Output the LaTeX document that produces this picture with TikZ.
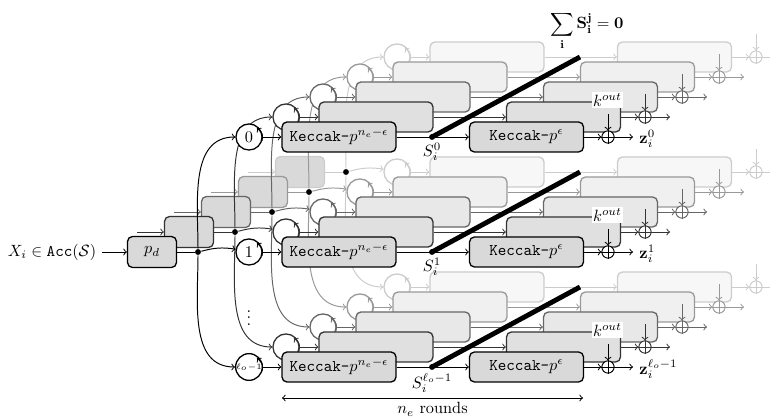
\documentclass[tikz,border=0pt]{standalone}
\usepackage{amsmath}
\usetikzlibrary{calc}
\begin{document}
\begin{tikzpicture}[x=0.6135pt,y=-0.6135pt,
  line width=0.6pt, >=to,
  kbox/.style={rounded corners=3pt, minimum width=69.9pt, minimum height=18.4pt, inner sep=0pt, line width=0.8pt},
  pbox/.style={rounded corners=3pt, minimum width=30pt, minimum height=19pt, inner sep=0pt, line width=0.8pt},
  ctr/.style={circle, minimum size=16pt, inner sep=0pt, fill=white, line width=0.8pt},
  xorn/.style={circle, minimum size=7.5pt, inner sep=0pt, fill=white, line width=0.6pt},
  dotn/.style={circle, fill=black, inner sep=0pt, minimum size=3.6pt},
]
\useasboundingbox (0,0) rectangle (770,419);

\foreach \k/\lc/\fc in {4/20/3,3/40/6,2/60/9,1/80/12,0/100/15}{
  \colorlet{LC}{black!\lc}\colorlet{FC}{black!\fc}
  \begin{scope}[shift={(37*\k,-20*\k)}]
    \node[pbox, draw=LC, fill=black!15] (pd\k) at (152,252) {\ifnum\k=0 $p_d$\fi};
    \ifnum\k>0
      \coordinate (in\k) at (100,252);
      \draw[->,LC] (in\k) -- (pd\k);
    \fi
    \node[dotn] (d\k) at (198,252) {};
    \draw[LC] (pd\k) -- (d\k);
    \foreach \g/\yy in {0/137,1/252,2/367}{
      \node[ctr, draw=LC] (c\k-\g) at (249,\yy) {\ifnum\k=0 \ifnum\g=2 \tiny$\ell_o{-}1$\else $\g$\fi\fi};
      \draw[->,LC] (262,\yy+4) .. controls (263,\yy-3) .. (257,\yy-9);
      \node[kbox, draw=LC, fill=FC] (ka\k-\g) at (339,\yy) {\ifnum\k=0 \texttt{Keccak-}$p^{n_e-\epsilon}$\fi};
      \coordinate (s\k-\g) at (432,\yy);
      \node[kbox, draw=LC, fill=FC] (kb\k-\g) at (526.5,\yy) {\ifnum\k=0 \texttt{Keccak-}$p^{\epsilon}$\fi};
      \node[xorn, draw=LC] (x\k-\g) at (608,\yy) {};
      \draw[LC] (x\k-\g.north) -- (x\k-\g.south) (x\k-\g.west) -- (x\k-\g.east);
      \coordinate (ko\k-\g) at (608,\yy-23);
      \coordinate (zo\k-\g) at (633,\yy);
      \draw[->,LC] (c\k-\g) -- (ka\k-\g);
      \draw[LC] (ka\k-\g) -- (s\k-\g);
      \draw[->,LC] (s\k-\g) -- (kb\k-\g);
      \draw[->,LC] (kb\k-\g) -- (x\k-\g);
      \draw[->,LC] (ko\k-\g) -- (x\k-\g);
      \draw[->,LC] (x\k-\g) -- (zo\k-\g);
    }
    \draw[->,LC] (d\k) to[out=90,in=180] (c\k-0);
    \draw[->,LC] (d\k) to[bend left=12] (c\k-1);
    \draw[->,LC] (d\k) to[out=-90,in=180] (c\k-2);
  \end{scope}
}

% front-layer labels
\node (X) at (52,252) {$X_i\in\texttt{Acc}(\mathcal{S})$};
\draw[->] (X) -- (pd0);
\node (vd) at (249,313) {$\vdots$};

\foreach \g/\yy/\sup in {0/137/0,1/252/1,2/367/{\ell_o-1}}{
  \draw[line width=3pt] (s0-\g) -- (s4-\g);
  \node[dotn] (sd\g) at (s0-\g) {};
  \node[anchor=north, inner sep=1pt] (sl\g) at (432,\yy+4) {$S_i^{\sup}$};
  \node[fill=white, inner sep=0.8pt] (kl\g) at (607.5,\yy-37) {$k^{out}$};
  \node[anchor=west, inner sep=0pt] (z\g) at (639,\yy+2) {$\mathbf{z}_i^{\sup}$};
}

\node[inner sep=0pt] (sum) at (587,31) {$\displaystyle\sum_{\mathbf{i}}\mathbf{S_i^j=0}$};

\coordinate (rl) at (282,398);
\coordinate (rr) at (583,398);
\draw[<->] (rl) -- (rr) node[midway, anchor=north, inner sep=0.5pt, yshift=-2pt] (ner) {$n_e$ rounds};
\end{tikzpicture}
\end{document}
